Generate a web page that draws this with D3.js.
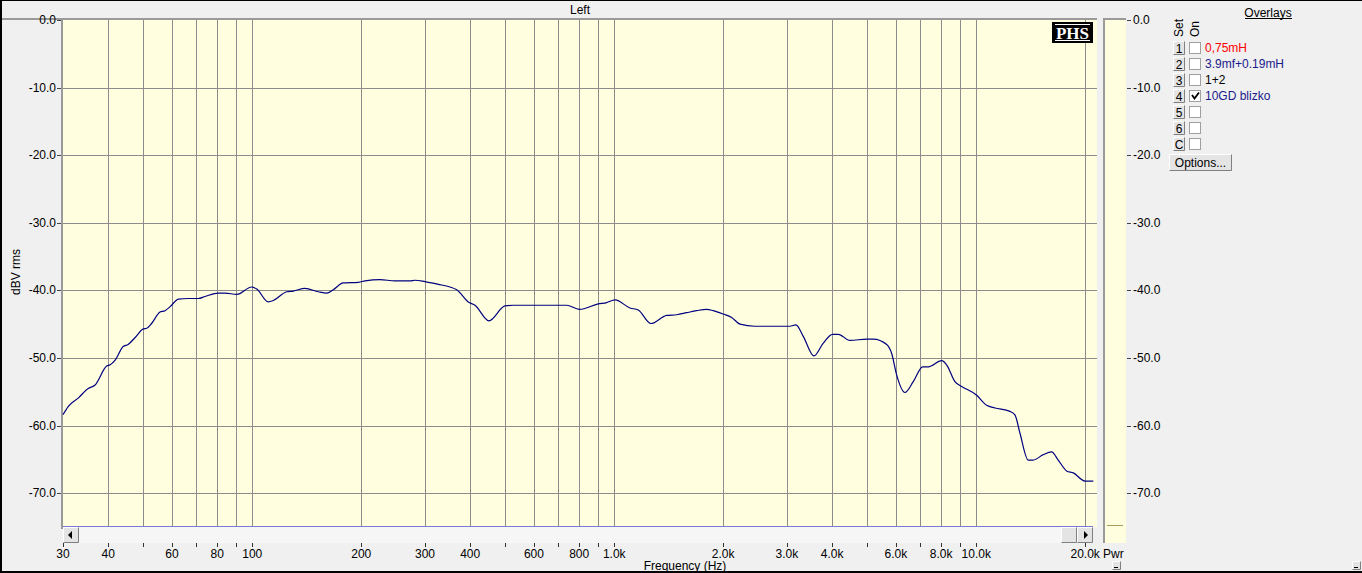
<!DOCTYPE html>
<html>
<head>
<meta charset="utf-8">
<script src="https://cdnjs.cloudflare.com/ajax/libs/d3/7.8.5/d3.min.js"></script>
<style>
body { margin: 0; background: #f0f0f0; overflow: hidden; }
svg text { font-family: Arial, "Liberation Sans", sans-serif; font-size: 12px; fill: #000; }
</style>
</head>
<body>
<svg id="chart" width="1362" height="573"></svg>
<script>
/*------------------------
  -------- DATA ----------
  ------------------------*/

var freqs = [30, 31, 33.1, 35.2, 36.8, 39.6, 40.5, 41.8, 44, 45.4, 47.4, 50, 51.1, 52.7, 55.6, 57.4,
    59.3, 62.5, 66.6, 70.9, 74, 80.6, 84.1, 90.6, 99.6, 102.9, 110.7, 114.3, 124.5, 129.8, 139.8,
    152.2, 160.6, 167.4, 178.4, 196.3, 204.9, 225.3, 247.8, 272.7, 281.5, 300, 326.5, 351.8, 367.1,
    395.1, 412.4, 450.7, 499, 526.1, 738.8, 800.7, 903.2, 952.9, 1005, 1105, 1165, 1263, 1396, 1488,
    1585, 1689, 1800, 1877, 2000, 2110, 2225, 2447, 3058, 3177, 3328, 3562, 3780, 4008, 4158, 4479,
    4983, 5196, 5658, 5838, 6027, 6354, 6699, 7113, 7371, 8025, 8284, 8733, 9113, 10027, 10686,
    11265, 12391, 12792, 13204, 13921, 14370, 15316, 16155, 16849, 17772, 18540, 19973, 21057];

var levels = [-58.4, -57.2, -55.9, -54.5, -54.0, -51.2, -51.0, -50.3, -48.3, -48.0, -47.0, -45.7, -45.6, -44.9, -43.2, -43.0,
    -42.4, -41.3, -41.2, -41.2, -40.9, -40.4, -40.4, -40.6, -39.5, -39.8, -41.7, -41.5, -40.2, -40.1, -39.7,
    -40.2, -40.4, -39.9, -38.9, -38.8, -38.6, -38.4, -38.6, -38.6, -38.5, -38.7, -39.1, -39.5, -39.9,
    -41.7, -42.2, -44.5, -42.3, -42.2, -42.2, -42.8, -42.0, -41.8, -41.4, -42.6, -42.9, -44.9, -43.7, -43.6,
    -43.3, -43.0, -42.8, -43.0, -43.5, -44.0, -45.0, -45.3, -45.3, -45.1, -46.8, -49.7, -47.8, -46.5, -46.5, -47.4,
    -47.2, -47.2, -48.0, -49.3, -52.5, -55.1, -53.5, -51.3, -51.3, -50.4, -51.0, -53.5, -54.2, -55.5, -57.0,
    -57.4, -57.9, -58.4, -61.1, -65.1, -65.1, -64.3, -63.9, -65.1, -66.7, -67.0, -68.2, -68.2];

var grid_freqs = [40, 50, 60, 70, 80, 90, 100, 200, 300, 400, 500, 600, 700, 800, 900,
    1000, 2000, 3000, 4000, 5000, 6000, 7000, 8000, 9000, 10000, 20000];
var tick_freqs = [30].concat(grid_freqs);
var label_freqs = [30, 40, 60, 80, 100, 200, 300, 400, 600, 800, 1000, 2000, 3000, 4000, 6000, 8000, 10000, 20000];
var label_texts = ["30", "40", "60", "80", "100", "200", "300", "400", "600", "800",
    "1.0k", "2.0k", "3.0k", "4.0k", "6.0k", "8.0k", "10.0k", "20.0k"];
var db_ticks = [0, -10, -20, -30, -40, -50, -60, -70];

var overlay_sets = ["1", "2", "3", "4", "5", "6", "C"];
var overlay_names = ["0,75mH", "3.9mf+0.19mH", "1+2", "10GD blizko", "", "", ""];
var overlay_colors = ["#ff0000", "#1a1a8c", "#000000", "#1a1a8c", "#000", "#000", "#000"];
var overlay_on = [false, false, false, true, false, false, false];

/*------------------------
  ------- SCALES ---------
  ------------------------*/

var x = d3.scaleLog().domain([30, 21560]).range([63, 1097]);
var y = d3.scaleLinear().domain([-75, 0]).range([527, 20]);

var svg = d3.select("#chart");
var grid_col = "#8c8c8c";

/*------------------------
  ------- PLOT -----------
  ------------------------*/

function draw_plot() {
    svg.append("rect")
        .attr("x", 63).attr("y", 20)
        .attr("width", 1097 - 63).attr("height", 527 - 20)
        .attr("fill", "#ffffe0");

    svg.append("g").selectAll("line")
        .data(grid_freqs).enter().append("line")
        .attr("x1", function(d) { return Math.round(x(d)) + 0.5; })
        .attr("x2", function(d) { return Math.round(x(d)) + 0.5; })
        .attr("y1", 20).attr("y2", 527)
        .attr("stroke", grid_col);

    svg.append("g").selectAll("line")
        .data(db_ticks.slice(1)).enter().append("line")
        .attr("x1", 63).attr("x2", 1097)
        .attr("y1", function(d) { return Math.round(y(d)) + 0.5; })
        .attr("y2", function(d) { return Math.round(y(d)) + 0.5; })
        .attr("stroke", grid_col);

    // borders top / left
    svg.append("rect").attr("x", 0).attr("y", 18).attr("width", 1097).attr("height", 2).attr("fill", "#9a9a9a");
    svg.append("rect").attr("x", 61).attr("y", 18).attr("width", 2).attr("height", 511).attr("fill", "#9a9a9a");

    // PHS badge
    svg.append("rect").attr("x", 1052).attr("y", 22).attr("width", 41).attr("height", 21).attr("fill", "#000");
    svg.append("line").attr("x1", 1055).attr("x2", 1090).attr("y1", 24.5).attr("y2", 24.5).attr("stroke", "#fff");
    svg.append("line").attr("x1", 1055).attr("x2", 1090).attr("y1", 40.5).attr("y2", 40.5).attr("stroke", "#fff");
    svg.append("text").attr("x", 1072.5).attr("y", 39)
        .attr("text-anchor", "middle")
        .style("font-family", "'Liberation Serif', 'DejaVu Serif', serif")
        .style("font-weight", "bold").style("font-size", "17px")
        .style("fill", "#fff")
        .text("PHS");

    var pts = freqs.map(function(f, i) { return { f: f, v: levels[i] }; });
    var line = d3.line()
        .x(function(d) { return x(d.f); })
        .y(function(d) { return y(d.v); })
        .curve(d3.curveMonotoneX);
    svg.append("path").datum(pts)
        .attr("d", line)
        .attr("fill", "none")
        .attr("stroke", "#000080")
        .attr("stroke-width", 1.2);
}

/*------------------------
  ------- AXES -----------
  ------------------------*/

function draw_axes() {
    // y axis left
    var gy = svg.append("g");
    gy.selectAll("line").data(db_ticks).enter().append("line")
        .attr("x1", 57).attr("x2", 61)
        .attr("y1", function(d) { return Math.round(y(d)) + 0.5; })
        .attr("y2", function(d) { return Math.round(y(d)) + 0.5; })
        .attr("stroke", "#444");
    gy.selectAll("text").data(db_ticks).enter().append("text")
        .attr("x", 56).attr("y", function(d) { return y(d) + 4; })
        .attr("text-anchor", "end")
        .text(function(d) { return d.toFixed(1); });

    svg.append("text")
        .attr("transform", "translate(20,272) rotate(-90)")
        .attr("text-anchor", "middle")
        .text("dBV rms");

    // scroll bar
    svg.append("rect").attr("x", 63).attr("y", 527).attr("width", 1030).attr("height", 16).attr("fill", "#f6f6f6");
    svg.append("line").attr("x1", 63).attr("x2", 1093).attr("y1", 526.5).attr("y2", 526.5).attr("stroke", "#7a7ad2");
    button(63, 527, 16, 16);
    button(1061, 527, 16, 16);
    button(1077, 527, 16, 16);
    svg.append("path").attr("d", "M68,535 L72,531 L72,539 Z").attr("fill", "#000");
    svg.append("path").attr("d", "M1088,535 L1084,531 L1084,539 Z").attr("fill", "#000");

    // x ticks
    var gx = svg.append("g");
    gx.selectAll("line").data(tick_freqs).enter().append("line")
        .attr("x1", function(d) { return Math.round(x(d)) + 0.5; })
        .attr("x2", function(d) { return Math.round(x(d)) + 0.5; })
        .attr("y1", 543).attr("y2", 547)
        .attr("stroke", "#333");
    gx.selectAll("text").data(label_freqs).enter().append("text")
        .attr("x", function(d) { return x(d); })
        .attr("y", 558)
        .attr("text-anchor", "middle")
        .text(function(d, i) { return label_texts[i]; });

    svg.append("text").attr("x", 685).attr("y", 570).attr("text-anchor", "middle").text("Frequency (Hz)");
    svg.append("text").attr("x", 580).attr("y", 14).attr("text-anchor", "middle").text("Left");
}

/*------------------------
  ------- METER ----------
  ------------------------*/

function draw_meter() {
    svg.append("rect").attr("x", 1104).attr("y", 18).attr("width", 22).attr("height", 525).attr("fill", "#ffffe0");
    svg.append("rect").attr("x", 1103).attr("y", 18).attr("width", 2).attr("height", 525).attr("fill", "#9a9a9a");
    svg.append("rect").attr("x", 1103).attr("y", 18).attr("width", 23).attr("height", 2).attr("fill", "#9a9a9a");
    svg.append("line").attr("x1", 1107).attr("x2", 1123).attr("y1", 525.5).attr("y2", 525.5).attr("stroke", "#a89c5a");

    var gm = svg.append("g");
    gm.selectAll("line").data(db_ticks).enter().append("line")
        .attr("x1", 1127).attr("x2", 1131)
        .attr("y1", function(d) { return Math.round(y(d)) + 0.5; })
        .attr("y2", function(d) { return Math.round(y(d)) + 0.5; })
        .attr("stroke", "#444");
    gm.selectAll("text").data(db_ticks).enter().append("text")
        .attr("x", 1133).attr("y", function(d) { return y(d) + 4; })
        .text(function(d) { return d.toFixed(1); });

    svg.append("text").attr("x", 1103).attr("y", 558).text("Pwr");
    small_button(1112, 561);
    small_button(1352, 561);
}

/*------------------------
  ------ OVERLAYS --------
  ------------------------*/

function draw_overlays() {
    var t = svg.append("text").attr("x", 1268).attr("y", 17).attr("text-anchor", "middle").text("Overlays");
    svg.append("line").attr("x1", 1245).attr("x2", 1292).attr("y1", 18.5).attr("y2", 18.5).attr("stroke", "#000");

    svg.append("text").attr("transform", "translate(1183,37) rotate(-90)").text("Set");
    svg.append("text").attr("transform", "translate(1199,37) rotate(-90)").text("On");

    overlay_sets.forEach(function(s, i) {
        var top = 41 + i * 16;
        button(1173, top, 12, 14);
        svg.append("text").attr("x", 1179).attr("y", top + 12).attr("text-anchor", "middle").text(s);
        // checkbox
        svg.append("rect").attr("x", 1189.5).attr("y", top + 1.5).attr("width", 11).attr("height", 11)
            .attr("fill", "#fff").attr("stroke", "#a0a0a0");
        if (overlay_on[i]) {
            svg.append("path").attr("d", "M1192," + (top + 6) + " L1194.5," + (top + 9.5) + " L1199," + (top + 3.5))
                .attr("fill", "none").attr("stroke", "#000").attr("stroke-width", 1.8);
        }
        svg.append("text").attr("x", 1205).attr("y", top + 11)
            .style("fill", overlay_colors[i]).text(overlay_names[i]);
    });

    button(1169, 154, 63, 17);
    svg.append("text").attr("x", 1200.5).attr("y", 167).attr("text-anchor", "middle").text("Options...");
}

/*---------------------
  -- DISPLAY HELPERS --
  ---------------------*/

function button(bx, by, w, h) {
    svg.append("rect").attr("x", bx).attr("y", by).attr("width", w).attr("height", h).attr("fill", "#e4e4e4");
    svg.append("path")
        .attr("d", "M" + (bx + 0.5) + "," + (by + h - 0.5) + " V" + (by + 0.5) + " H" + (bx + w - 0.5))
        .attr("fill", "none").attr("stroke", "#fff");
    svg.append("path")
        .attr("d", "M" + (bx + 0.5) + "," + (by + h - 0.5) + " H" + (bx + w - 0.5) + " V" + (by + 0.5))
        .attr("fill", "none").attr("stroke", "#808080");
}

function small_button(bx, by) {
    button(bx, by, 9, 9);
    svg.append("line").attr("x1", bx + 2).attr("x2", bx + 6).attr("y1", by + 6.5).attr("y2", by + 6.5).attr("stroke", "#000");
}

function draw_frame() {
    svg.append("rect").attr("x", 0).attr("y", 0).attr("width", 1362).attr("height", 1).attr("fill", "#000");
    svg.append("rect").attr("x", 0).attr("y", 0).attr("width", 2).attr("height", 573).attr("fill", "#000");
    svg.append("rect").attr("x", 0).attr("y", 571).attr("width", 1362).attr("height", 2).attr("fill", "#000");
}

/*---------------------
        -- RUN --
  ---------------------*/

draw_plot();
draw_axes();
draw_meter();
draw_overlays();
draw_frame();
</script>
</body>
</html>
